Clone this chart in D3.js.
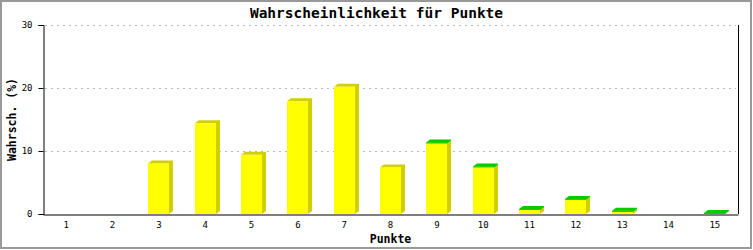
<!DOCTYPE html>
<html>
<head>
<meta charset="utf-8">
<script src="https://cdn.jsdelivr.net/npm/d3@7"></script>
<style>
  body { margin: 0; background: #fff; }
  svg { display: block; }
  .tick text { font-family: "DejaVu Sans Mono", monospace; }
</style>
</head>
<body>
<svg id="chart" width="753" height="250"></svg>
<script>
const categories = ["1","2","3","4","5","6","7","8","9","10","11","12","13","14","15"];
const yellowVals = [0, 0, 8.0, 14.4, 9.4, 17.9, 20.2, 7.4, 11.2, 7.4, 0.65, 2.25, 0.35, 0, 0];
const greenVals  = [0, 0, 0, 0, 0, 0, 0, 0, 0.15, 0.15, 0.15, 0.15, 0.15, 0, 0.15];
const yTicks = [0, 10, 20, 30];

const W = 753, H = 250;
const M = { top: 25, right: 15, bottom: 36, left: 43 };
const svg = d3.select("#chart");

// frame
svg.append("rect")
  .attr("x", 1).attr("y", 1).attr("width", W - 3).attr("height", H - 3)
  .attr("fill", "#fff").attr("stroke", "#999").attr("stroke-width", 2);

const x = d3.scaleBand().domain(categories).range([M.left, W - M.right]);
const y = d3.scaleLinear().domain([0, 30]).range([H - M.bottom, M.top]);

// grid
svg.append("g").selectAll("line")
  .data(yTicks.filter(t => t > 0))
  .join("line")
  .attr("x1", M.left + 2).attr("x2", W - M.right - 2)
  .attr("y1", d => Math.round(y(d)) + 0.5).attr("y2", d => Math.round(y(d)) + 0.5)
  .attr("stroke", "#bbb").attr("stroke-dasharray", "2,4");

// bars
const barW = 21, sh = 4, sv = 3;
const series = [
  { vals: yellowVals, fill: "#ffff00", shade: "#d2cf00" },
  { vals: greenVals, fill: "#00cc00", shade: "#00cc00" }
];
const g = svg.append("g");
categories.forEach((c, i) => {
  const cx = x(c) + x.bandwidth() / 2;
  const x0 = Math.round(cx - barW / 2), x1 = x0 + barW;
  let base = 0;
  series.forEach(s => {
    const v = s.vals[i];
    if (v <= 0) return;
    const yb = y(base), yt = y(base + v);
    g.append("polygon")
      .attr("points", [[x0, yt], [x0 + sh, yt - sv], [x1 + sh, yt - sv], [x1 + sh, yb - sv], [x1, yb], [x1, yt]].join(" "))
      .attr("fill", s.shade);
    g.append("rect")
      .attr("x", x0).attr("y", yt).attr("width", barW).attr("height", yb - yt)
      .attr("fill", s.fill);
    base += v;
  });
});

// axes
const yAxis = svg.append("g")
  .attr("transform", `translate(${M.left + 0.5},0)`)
  .call(d3.axisLeft(y).tickValues(yTicks).tickSize(5).tickPadding(6));
yAxis.selectAll("text").attr("font-size", 9).attr("fill", "#000");
yAxis.selectAll("line, path").attr("stroke", "#000");

const xAxis = svg.append("g")
  .attr("transform", `translate(0,${Math.round(y(0)) + 0.5})`)
  .call(d3.axisBottom(x).tickSize(0).tickPadding(7));
xAxis.selectAll("text").attr("font-size", 9).attr("fill", "#000");
xAxis.select("path").attr("stroke", "#000");

svg.append("line")
  .attr("x1", W - M.right + 0.5).attr("x2", W - M.right + 0.5)
  .attr("y1", y(30)).attr("y2", y(0))
  .attr("stroke", "#000");

// titles
svg.append("text")
  .attr("x", W / 2).attr("y", 18)
  .attr("text-anchor", "middle")
  .attr("font-family", "DejaVu Sans Mono, monospace").attr("font-weight", "bold")
  .attr("font-size", 14.5)
  .text("Wahrscheinlichkeit für Punkte");

svg.append("text")
  .attr("x", (M.left + W - M.right) / 2).attr("y", 243)
  .attr("text-anchor", "middle")
  .attr("font-family", "DejaVu Sans Mono, monospace").attr("font-weight", "bold")
  .attr("font-size", 11.5)
  .text("Punkte");

svg.append("text")
  .attr("transform", `translate(16,${(y(0) + y(30)) / 2}) rotate(-90)`)
  .attr("text-anchor", "middle")
  .attr("font-family", "DejaVu Sans Mono, monospace").attr("font-weight", "bold")
  .attr("font-size", 11.5)
  .text("Wahrsch. (%)");
</script>
</body>
</html>
